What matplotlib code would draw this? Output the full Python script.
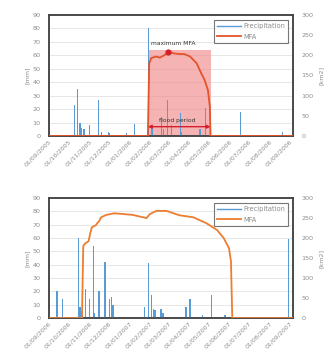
import matplotlib
matplotlib.use("Agg")
import matplotlib.pyplot as plt
import matplotlib.dates as mdates
import pandas as pd

# --- 2005/2006 season ---
p1_dates = ["2005-10-10", "2005-10-14", "2005-10-18", "2005-10-20", "2005-10-24", "2005-11-01",
            "2005-11-15", "2005-11-20", "2005-11-30", "2005-12-02", "2005-12-28", "2006-01-09",
            "2006-01-17", "2006-01-30", "2006-02-04", "2006-02-19", "2006-02-22", "2006-02-28",
            "2006-03-06", "2006-03-19", "2006-03-21", "2006-04-18", "2006-04-26", "2006-06-18",
            "2006-08-21"]
p1_mm = [23, 35, 10, 6, 5, 8, 27, 3, 3, 2, 2, 9, 1, 80, 8, 14, 5, 27, 8, 17, 3, 5, 21, 18, 3]

m1_dates = ["2005-09-01", "2006-01-29", "2006-01-30", "2006-01-31", "2006-02-03", "2006-02-11",
            "2006-02-16", "2006-02-24", "2006-03-01", "2006-03-08", "2006-03-18", "2006-03-25",
            "2006-04-03", "2006-04-13", "2006-04-20", "2006-04-25", "2006-04-30", "2006-05-03",
            "2006-05-04", "2006-09-06"]
m1_km2 = [0, 0, 90, 180, 193, 197, 194, 201, 209, 205, 203, 203, 197, 180, 155, 139, 114, 73, 0, 0]

flood_start, flood_end = "2006-01-29", "2006-05-04"
max_date, max_val = "2006-03-01", 209

# --- 2006/2007 season ---
p2_dates = ["2006-09-13", "2006-09-22", "2006-10-16", "2006-10-18", "2006-10-21", "2006-10-26",
            "2006-11-01", "2006-11-07", "2006-11-09", "2006-11-16", "2006-11-25", "2006-12-02",
            "2006-12-05", "2006-12-07", "2007-01-24", "2007-01-30", "2007-02-03", "2007-02-07",
            "2007-02-09", "2007-02-18", "2007-02-21", "2007-03-28", "2007-04-03", "2007-04-16",
            "2007-04-22", "2007-05-05", "2007-05-26", "2007-08-30"]
p2_mm = [20, 14, 60, 8, 5, 22, 14, 54, 4, 20, 42, 14, 16, 10, 8, 41, 17, 7, 6, 7, 4, 8, 14, 1,
         2, 17, 2, 59]

m2_dates = ["2006-09-01", "2006-10-21", "2006-10-23", "2006-10-26", "2006-10-31", "2006-11-03",
            "2006-11-05", "2006-11-11", "2006-11-13", "2006-11-16", "2006-11-19", "2006-11-27",
            "2006-12-09", "2007-01-06", "2007-01-27", "2007-02-01", "2007-02-11", "2007-02-26",
            "2007-03-18", "2007-04-08", "2007-04-28", "2007-05-14", "2007-05-24", "2007-06-01",
            "2007-06-04", "2007-06-06", "2007-09-06"]
m2_km2 = [0, 0, 180, 187, 192, 215, 227, 232, 237, 242, 252, 258, 262, 258, 250, 260, 268, 268,
          257, 252, 237, 220, 200, 175, 142, 0, 0]

BLUE = "#5b9bd5"
ORANGE = "#ed7d31"
GRAY = "#8c8c8c"


def draw(ax, p_dates, p_mm, m_dates, m_km2, start, end, line_color):
    ax.set_axisbelow(True)
    ax.grid(axis="y", color="#e3e3e3", lw=0.6)
    ax.bar(pd.to_datetime(p_dates), p_mm, width=2.0, color=BLUE, zorder=3)
    ax.set_ylim(0, 90)
    ax.set_yticks(range(0, 91, 10))
    ax.set_xlim(pd.Timestamp(start), pd.Timestamp(end))
    ax.xaxis.set_major_locator(mdates.MonthLocator())
    ax.xaxis.set_major_formatter(mdates.DateFormatter("%d/%m/%Y"))
    ax.tick_params(axis="x", labelrotation=45, labelsize=4.5, colors=GRAY, length=0, pad=2)
    for lbl in ax.get_xticklabels():
        lbl.set_ha("right")
        lbl.set_rotation_mode("anchor")
    ax.tick_params(axis="y", labelsize=4.6, colors=GRAY, length=0, pad=6)
    ax.set_ylabel("[mm]", fontsize=4.6, color=GRAY, labelpad=2)
    for s in ax.spines.values():
        s.set_color("#444444")
        s.set_linewidth(1.1)

    ax2 = ax.twinx()
    ax2.plot(pd.to_datetime(m_dates), m_km2, color=line_color, lw=1.3, zorder=4)
    ax2.set_ylim(0, 300)
    ax2.set_yticks(range(0, 301, 50))
    ax2.tick_params(axis="y", labelsize=4.6, colors=GRAY, length=0, pad=6)
    ax2.set_ylabel("[km2]", fontsize=4.6, color=GRAY, labelpad=4)
    for s in ax2.spines.values():
        s.set_color("#444444")
        s.set_linewidth(1.1)

    h1 = plt.Line2D([], [], color=BLUE, lw=1.0)
    h2 = plt.Line2D([], [], color=line_color, lw=1.3)
    leg = ax2.legend([h1, h2], ["Precipitation", "MFA"], loc="upper right", fontsize=4.8,
                     frameon=True, fancybox=False, edgecolor="#555555", handlelength=3.6,
                     borderaxespad=0.7, labelcolor=GRAY, handletextpad=0.3, borderpad=0.5,
                     labelspacing=0.7)
    leg.get_frame().set_linewidth(0.8)
    return ax2


fig = plt.figure(figsize=(3.31, 3.55), dpi=100)
ax_top = fig.add_axes([0.148, 0.617, 0.737, 0.341])
ax_bot = fig.add_axes([0.148, 0.104, 0.737, 0.338])

t2 = draw(ax_top, p1_dates, p1_mm, m1_dates, m1_km2, "2005-09-01", "2006-09-06", "#e2542a")
fs, fe = pd.Timestamp(flood_start), pd.Timestamp(flood_end)
# shaded flood window on the precipitation axis so the bars stay on top
ax_top.fill_between([fs, fe], 0, 64, color="#f28b8b", alpha=0.65, lw=0, zorder=1)
t2.plot(pd.Timestamp(max_date), max_val, "o", color="#d3202c", ms=3.5, zorder=5)
t2.text(pd.Timestamp("2006-03-08"), 222, "maximum MFA", fontsize=4.3, ha="center",
        va="bottom", color="#333333")
t2.annotate("", xy=(fs, 23), xytext=(fe, 23),
            arrowprops=dict(arrowstyle="<|-|>", color="#d3202c", lw=1.0,
                            mutation_scale=5, shrinkA=0, shrinkB=0), zorder=6)
t2.text(pd.Timestamp("2006-03-14"), 33, "flood period", fontsize=4.3, ha="center",
        va="bottom", color="#333333", zorder=6)

draw(ax_bot, p2_dates, p2_mm, m2_dates, m2_km2, "2006-09-01", "2007-09-06", ORANGE)

fig.savefig("out.png", dpi=100)
